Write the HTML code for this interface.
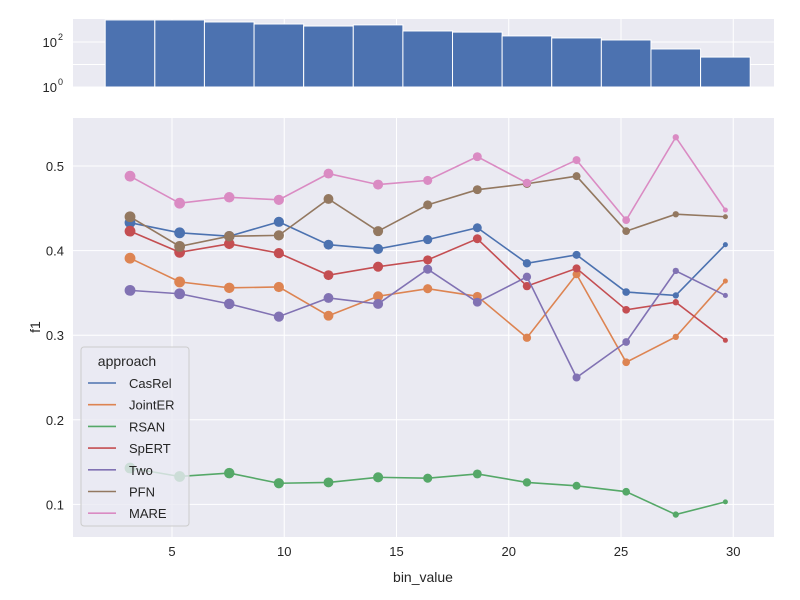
<!DOCTYPE html>
<html><head><meta charset="utf-8"><style>
body{margin:0;background:#fff;}
svg{display:block;font-family:"Liberation Sans","DejaVu Sans",sans-serif;}
</style></head><body>
<svg id="c" width="800" height="600"></svg>
<script>
const binCenters=[3.13,5.34,7.55,9.76,11.97,14.18,16.39,18.6,20.81,23.02,25.23,27.44,29.65];
const histLog=[2.98,2.98,2.89,2.8,2.71,2.76,2.49,2.44,2.27,2.18,2.09,1.69,1.33];
const xTicks=[5,10,15,20,25,30];
const yTicks=[0.1,0.2,0.3,0.4,0.5];
const seriesNames=["CasRel","JointER","RSAN","SpERT","Two","PFN","MARE"];
const colors=["#4c72b0","#dd8452","#55a868","#c44e52","#8172b3","#937860","#da8bc3"];
const casrel=[0.433,0.421,0.417,0.434,0.407,0.402,0.413,0.427,0.385,0.395,0.351,0.347,0.407];
const jointer=[0.391,0.363,0.356,0.357,0.323,0.346,0.355,0.346,0.297,0.372,0.268,0.298,0.364];
const rsan=[0.143,0.133,0.137,0.125,0.126,0.132,0.131,0.136,0.126,0.122,0.115,0.088,0.103];
const spert=[0.423,0.398,0.408,0.397,0.371,0.381,0.389,0.414,0.358,0.379,0.330,0.339,0.294];
const two=[0.353,0.349,0.337,0.322,0.344,0.337,0.378,0.339,0.369,0.250,0.292,0.376,0.347];
const pfn=[0.440,0.405,0.417,0.418,0.461,0.423,0.454,0.472,0.479,0.488,0.423,0.443,0.440];
const mare=[0.488,0.456,0.463,0.460,0.491,0.478,0.483,0.511,0.480,0.507,0.436,0.534,0.448];
const allSeries=[casrel,jointer,rsan,spert,two,pfn,mare];

const NS="http://www.w3.org/2000/svg";
const svg=document.getElementById('c');
function mk(t,a,p){const e=document.createElementNS(NS,t);for(const k in a)e.setAttribute(k,a[k]);(p||svg).appendChild(e);return e;}
const X=v=>172+(v-5)*22.45;
const Y=v=>166+(0.5-v)*846;
const HY=l=>87-l*22.5;
const binW=2.21;

const topG=mk('g',{});


mk('rect',{x:73,y:19,width:701,height:68,fill:'#eaeaf2'},topG);
[0,1,2].forEach(d=>{mk('line',{x1:73,x2:774,y1:HY(d),y2:HY(d),stroke:'#fff','stroke-width':1},topG);});
xTicks.forEach(t=>mk('line',{x1:X(t),x2:X(t),y1:19,y2:87,stroke:'#fff'},topG));
binCenters.forEach((c,i)=>{
  const r=mk('rect',{x:X(c-binW/2),y:HY(histLog[i]),width:X(c+binW/2)-X(c-binW/2),height:87-HY(histLog[i]),fill:'#4c72b0',stroke:'#fff','stroke-width':1},topG);
  
  
});
[0,2].forEach(d=>{
  const t=mk('text',{x:57,y:HY(d)+5,'font-size':13,fill:'#262626','text-anchor':'end'},topG);
  t.textContent='10';
  const s=mk('text',{x:58,y:HY(d)-2,'font-size':9,fill:'#262626'},topG);s.textContent=String(d);
});

const g=mk('g',{});


mk('rect',{x:73,y:118,width:701,height:419,fill:'#eaeaf2'},g);
yTicks.forEach(t=>{
  mk('line',{x1:73,x2:774,y1:Y(t),y2:Y(t),stroke:'#fff'},g);
  const l=mk('text',{x:64,y:Y(t)+5,'font-size':13,fill:'#262626','text-anchor':'end'},g);
  
  
  l.textContent=t.toFixed(1);
});
xTicks.forEach(t=>{
  mk('line',{x1:X(t),x2:X(t),y1:118,y2:537,stroke:'#fff'},g);
  const l=mk('text',{x:X(t),y:556,'font-size':13,fill:'#262626','text-anchor':'middle'},g);
  
  
  l.textContent=t;
});
const xl=mk('text',{x:423,y:582,'font-size':14,fill:'#262626','text-anchor':'middle'},g);


xl.textContent='bin_value';
const yl=mk('text',{x:0,y:0,'font-size':14,fill:'#262626','text-anchor':'middle',transform:'translate(40,327) rotate(-90)'},g);


yl.textContent='f1';

allSeries.forEach((s,k)=>{
  const p=mk('polyline',{points:s.map((v,i)=>X(binCenters[i])+','+Y(v)).join(' '),fill:'none',stroke:colors[k],'stroke-width':1.6},g);
  
  
  s.forEach((v,i)=>{
    const r=0.2+histLog[i]*1.75;
    const c=mk('circle',{cx:X(binCenters[i]),cy:Y(v),r:r,fill:colors[k]},g);
    
    
  });
});

const lg=mk('g',{});


mk('rect',{x:81,y:347,width:108,height:179,rx:3,fill:'#eaeaf2','fill-opacity':0.8,stroke:'#ccc'},lg);
const lt=mk('text',{x:127,y:366,'font-size':14,fill:'#262626','text-anchor':'middle'},lg);
lt.textContent='approach';
seriesNames.forEach((n,k)=>{
  const y=383+k*21.7;
  const e=mk('g',{},lg);
  
  
  mk('line',{x1:88,x2:116,y1:y,y2:y,stroke:colors[k],'stroke-width':1.6},e);
  const t=mk('text',{x:129,y:y+5,'font-size':13,fill:'#262626'},e);
  t.textContent=n;
});
</script>
</body></html>
